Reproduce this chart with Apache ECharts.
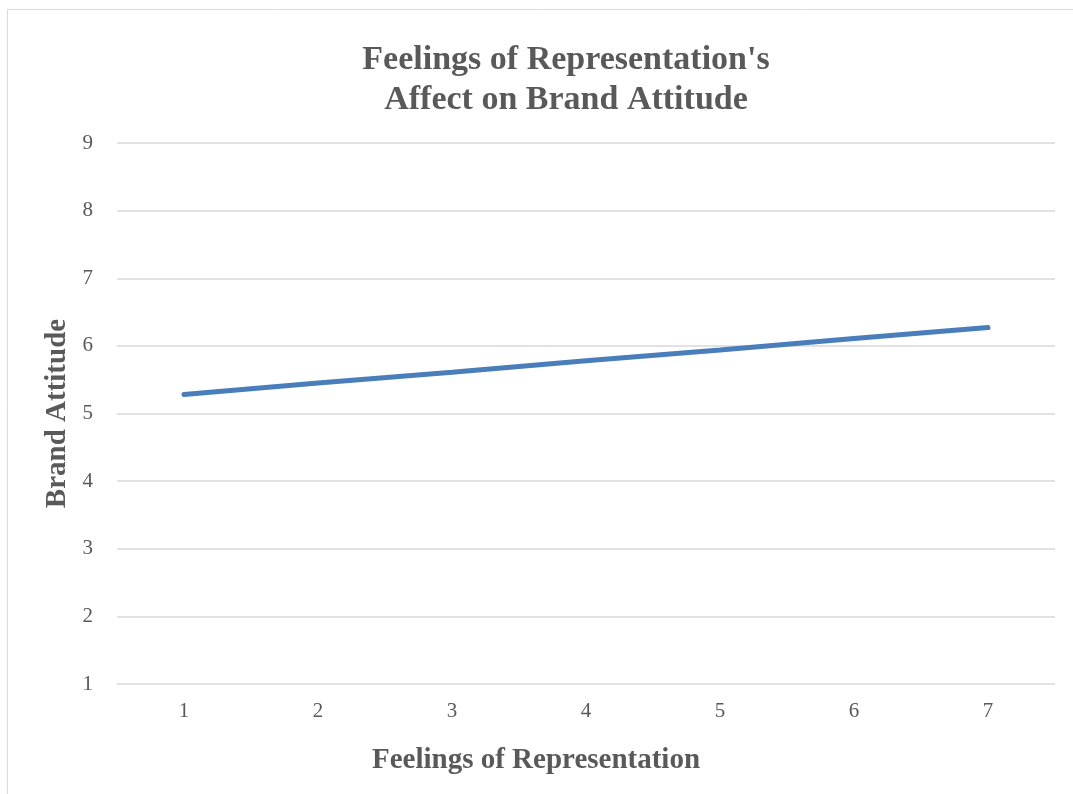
<!DOCTYPE html>
<html><head><meta charset="utf-8">
<script src="https://cdn.jsdelivr.net/npm/echarts@6/dist/echarts.min.js"></script>
<style>html,body{margin:0;padding:0;background:#fff}#c{width:1073px;height:794px}</style>
</head><body><div id="c"></div>
<script>
const categories = ['1','2','3','4','5','6','7'];
const brandAttitude = [5.28, 5.45, 5.61, 5.78, 5.94, 6.11, 6.27];
const yTicks = {min: 1, max: 9, interval: 1};
const titleText = "Feelings of Representation's\nAffect on Brand Attitude";
const xName = 'Feelings of Representation';
const yName = 'Brand Attitude';

const chart = echarts.init(document.getElementById('c'), null, {renderer: 'canvas'});
const serif = '"Liberation Serif", "Times New Roman", serif';
chart.setOption({
  animation: false,
  graphic: [{type: 'rect', shape: {x: 7.5, y: 9.5, width: 1100, height: 820}, style: {fill: 'none', stroke: '#d9d9d9', lineWidth: 1}, z: -1}],
  title: [
    {text: titleText, left: 561, top: 35, textAlign: 'center',
     textStyle: {fontFamily: serif, fontWeight: 'bold', fontSize: 34, color: '#595959', lineHeight: 40}},
    {text: xName, left: 531, top: 741, textAlign: 'center',
     textStyle: {fontFamily: serif, fontWeight: 'bold', fontSize: 29, color: '#595959'}}
  ],
  grid: {left: 117, right: 18, top: 143, bottom: 110, containLabel: false},
  xAxis: {
    type: 'category', data: categories, boundaryGap: true,
    axisLine: {show: false}, axisTick: {show: false},
    axisLabel: {fontFamily: serif, fontSize: 21, color: '#595959', margin: 17}
  },
  yAxis: {
    type: 'value', min: yTicks.min, max: yTicks.max, interval: yTicks.interval,
    name: yName, nameLocation: 'middle', nameGap: 43,
    nameTextStyle: {fontFamily: serif, fontWeight: 'bold', fontSize: 29, color: '#595959'},
    axisLine: {show: false}, axisTick: {show: false},
    axisLabel: {fontFamily: serif, fontSize: 21, color: '#595959', margin: 24},
    splitLine: {lineStyle: {color: '#d9d9d9', width: 1.5}}
  },
  series: [{
    type: 'line', data: brandAttitude, showSymbol: false, symbol: 'none',
    lineStyle: {color: '#4a7ebb', width: 5, cap: 'round'}
  }]
});
</script></body></html>
